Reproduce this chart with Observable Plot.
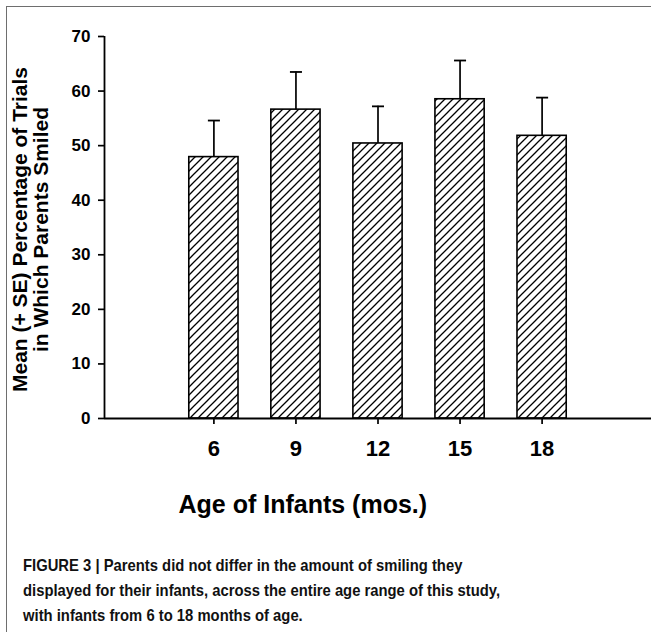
<!DOCTYPE html>
<html><head><meta charset="utf-8">
<script src="https://cdn.jsdelivr.net/npm/d3@7"></script>
<script src="https://cdn.jsdelivr.net/npm/@observablehq/plot@0.6"></script>
<style>
html,body{margin:0;padding:0;background:#fff;}
#wrap{position:relative;width:651px;height:632px;overflow:hidden;}
#frame{position:absolute;left:6px;top:6px;width:700px;height:700px;border-left:1.5px solid #6e6e6e;border-top:1.5px solid #6e6e6e;}
#chart{position:absolute;left:0;top:0;}
#caption{position:absolute;left:23px;top:553px;font-family:"Liberation Sans",Arial,sans-serif;font-weight:bold;font-size:16.5px;line-height:25px;color:#111;white-space:nowrap;transform-origin:0 0;}
</style></head><body>
<div id="wrap"><div id="frame"></div><div id="chart"></div><div id="caption"></div></div>
<script>
// ---- data ----
const ages = [6, 9, 12, 15, 18];
const means = [47.9, 56.6, 50.4, 58.5, 51.8];
const errors = [6.7, 6.9, 6.8, 7.1, 7.0];
const xTicks = [6, 9, 12, 15, 18];
const yTicks = [0, 10, 20, 30, 40, 50, 60, 70];
const xDomain = [2, 22];
const yDomain = [0, 70];
const xTitle = "Age of Infants (mos.)";
const yTitle = "Mean (+ SE) Percentage of Trials\nin Which Parents Smiled";
const captionLines = [
  "FIGURE 3 | Parents did not differ in the amount of smiling they",
  "displayed for their infants, across the entire age range of this study,",
  "with infants from 6 to 18 months of age."
];

const data = ages.map((a, i) => ({age: a, mean: means[i], se: errors[i]}));
const barHalf = 0.9;
const capHalf = 0.22;

const svg = Plot.plot({
  width: 651,
  height: 530,
  marginLeft: 104,
  marginRight: 0,
  marginTop: 36,
  marginBottom: 112,
  style: {fontFamily: "'Liberation Sans', Arial, sans-serif", fontWeight: "bold", color: "#000", background: "transparent", overflow: "visible"},
  x: {type: "linear", domain: xDomain},
  y: {domain: yDomain},
  marks: [
    Plot.rectY(data, {x1: d => d.age - barHalf, x2: d => d.age + barHalf, y1: 0, y2: "mean", fill: "url(#hatch)", stroke: "#000", strokeWidth: 1.6}),
    Plot.ruleX(data, {x: "age", y1: "mean", y2: d => d.mean + d.se, stroke: "#000", strokeWidth: 1.7}),
    Plot.link(data, {x1: d => d.age - capHalf, x2: d => d.age + capHalf, y1: d => d.mean + d.se, y2: d => d.mean + d.se, stroke: "#000", strokeWidth: 1.8}),
    Plot.ruleX([xDomain[0]], {y1: yDomain[0], y2: yDomain[1], stroke: "#000", strokeWidth: 1.8}),
    Plot.ruleY([yDomain[0]], {stroke: "#000", strokeWidth: 2}),
    Plot.axisY({ticks: yTicks, tickSize: 6, tickPadding: 8, fontSize: 17, fontWeight: "bold", strokeWidth: 1.7, label: null}),
    Plot.axisX({ticks: xTicks, tickSize: 6, tickPadding: 16, fontSize: 22, fontWeight: "bold", strokeWidth: 1.7, label: null}),
    Plot.text([yTitle], {frameAnchor: "left", rotate: -90, dx: -74, dy: 2, fontSize: 21, fontWeight: "bold", lineHeight: 1, textAnchor: "middle", lineAnchor: "middle"}),
    Plot.text([xTitle], {frameAnchor: "bottom-left", dx: 74, dy: 86, fontSize: 25, fontWeight: "bold", textAnchor: "start", lineAnchor: "middle"})
  ]
});

// hatch pattern definition
const defs = d3.select(svg).insert("defs", ":first-child");
const pat = defs.append("pattern").attr("id", "hatch").attr("patternUnits", "userSpaceOnUse").attr("width", 8).attr("height", 8);
pat.append("rect").attr("width", 8).attr("height", 8).attr("fill", "#fff");
pat.append("path").attr("d", "M-2,2 L2,-2 M0,8 L8,0 M6,10 L10,6").attr("stroke", "#000").attr("stroke-width", 1.3);

document.getElementById("chart").appendChild(svg);
const cap = document.getElementById("caption");
let maxW = 0;
captionLines.forEach((t, i) => {
  const span = document.createElement("span");
  span.textContent = t;
  const div = document.createElement("div");
  div.appendChild(span);
  cap.appendChild(div);
  maxW = Math.max(maxW, span.getBoundingClientRect().width);
});
// condensed face is not installed: squeeze the text horizontally to the reference width
const targetW = 477;
if (maxW > 0) cap.style.transform = `scaleX(${targetW / maxW})`;
</script>
</body></html>
